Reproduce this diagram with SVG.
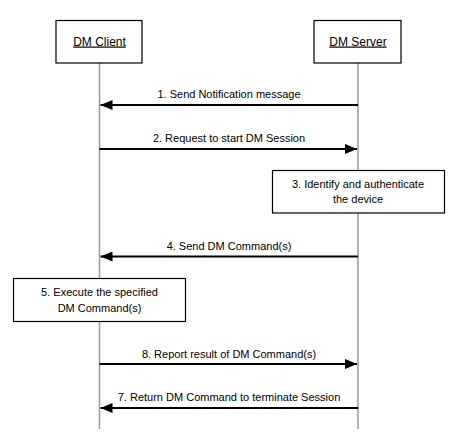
<svg xmlns="http://www.w3.org/2000/svg" width="465" height="437" viewBox="0 0 465 437">
<style>
.box{fill:#fff;stroke:#000;stroke-width:1.2}
.life{stroke:#999;stroke-width:1.5}
.msg{stroke:#000;stroke-width:2.2;fill:none}
text{font-family:"Liberation Sans",Arial,sans-serif;font-size:11px;fill:#000;text-anchor:middle}
.hd{font-size:12px;text-decoration:underline}
</style>
<defs>
<marker id="ah" viewBox="0 0 12 10" refX="12" refY="5" markerWidth="12" markerHeight="10" markerUnits="userSpaceOnUse" orient="auto">
<path d="M0,0 L12,5 L0,10 Z" fill="#000"/>
</marker>
</defs>
<g id="lifelines">
<line class="life" x1="99.5" y1="63" x2="99.5" y2="429"/>
<line class="life" x1="358" y1="63" x2="358" y2="429"/>
</g>
<g id="client">
<rect class="box" x="56" y="20.5" width="86" height="42.5"/>
<text class="hd" x="99.5" y="45.5">DM Client</text>
</g>
<g id="server">
<rect class="box" x="314" y="20.5" width="87" height="42.5"/>
<text class="hd" x="358" y="45.5">DM Server</text>
</g>
<g id="connectors">
<line class="msg" x1="358" y1="105" x2="100.5" y2="105" marker-end="url(#ah)"/>
<line class="msg" x1="99.5" y1="149" x2="357" y2="149" marker-end="url(#ah)"/>
<line class="msg" x1="358" y1="256.5" x2="100.5" y2="256.5" marker-end="url(#ah)"/>
<line class="msg" x1="99.5" y1="364" x2="357" y2="364" marker-end="url(#ah)"/>
<line class="msg" x1="358" y1="408" x2="100.5" y2="408" marker-end="url(#ah)"/>
<text x="229" y="98">1. Send Notification message</text>
<text x="229" y="142">2. Request to start DM Session</text>
<text x="229" y="250">4. Send DM Command(s)</text>
<text x="229" y="358">8. Report result of DM Command(s)</text>
<text x="229" y="401">7. Return DM Command to terminate Session</text>
</g>
<g id="step3">
<rect class="box" x="272.5" y="170.5" width="172" height="42.5"/>
<text x="358" y="188">3. Identify and authenticate</text>
<text x="358" y="203">the device</text>
</g>
<g id="step5">
<rect class="box" x="13.5" y="278.5" width="172" height="43"/>
<text x="99.5" y="296">5. Execute the specified</text>
<text x="99.5" y="311.5">DM Command(s)</text>
</g>
</svg>
